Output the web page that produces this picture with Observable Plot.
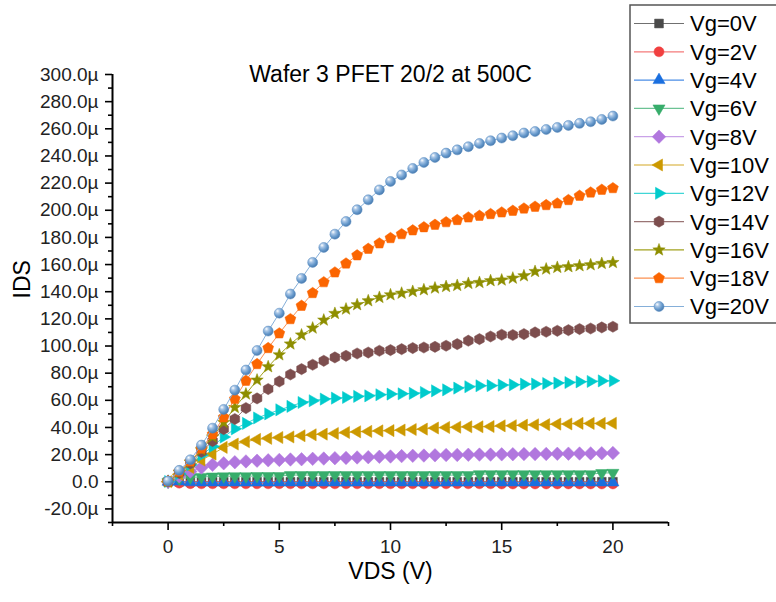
<!DOCTYPE html>
<html><head><meta charset="utf-8">
<script src="https://cdn.jsdelivr.net/npm/d3@7"></script>
<script src="https://cdn.jsdelivr.net/npm/@observablehq/plot@0.6"></script>
<style>body{margin:0;background:#fff;} svg{font-family:"Liberation Sans",Arial,sans-serif;}</style>
</head><body><div id="chart"></div>
<script>
const title = "Wafer 3 PFET 20/2 at 500C";
const xLabel = "VDS (V)";
const yLabel = "IDS";
const xTicks = [0, 5, 10, 15, 20];
const xMinorTicks = [-2.5, 2.5, 7.5, 12.5, 17.5, 22.5];
const yTicks = [-20, 0, 20, 40, 60, 80, 100, 120, 140, 160, 180, 200, 220, 240, 260, 280, 300];
const yMinorTicks = [-30, -10, 10, 30, 50, 70, 90, 110, 130, 150, 170, 190, 210, 230, 250, 270, 290];

const vds = [0,0.5,1,1.5,2,2.5,3,3.5,4,4.5,5,5.5,6,6.5,7,7.5,8,8.5,9,9.5,10,10.5,11,11.5,12,12.5,13,13.5,14,14.5,15,15.5,16,16.5,17,17.5,18,18.5,19,19.5,20];
const seriesNames = ["Vg=0V","Vg=2V","Vg=4V","Vg=6V","Vg=8V","Vg=10V","Vg=12V","Vg=14V","Vg=16V","Vg=18V","Vg=20V"];
const seriesColors = ["#4a4a4a","#f14040","#1a6fdf","#37ad6b","#b177de","#cc9900","#00cbcc","#7d4e4e","#8e8e00","#fb6501","#6699cc"];
const lineColors = ["#707070","#f47a7a","#4a8de6","#6cc294","#c9a2e8","#d4a825","#40d6d6","#9a7575","#a2a21e","#fc9050","#85afd9"];

// IDS in µA
const ids0 = [0,0,0,0,0,0,0,0,0,0,0,0,0,0,0,0,0,0,0,0,0,0,0,0,0,0,0,0,0,0,0,0,0,0,0,0,0,0,0,0,0];
const ids2 = [0,-1,-1.4,-1.5,-1.5,-1.5,-1.5,-1.5,-1.5,-1.5,-1.5,-1.5,-1.5,-1.5,-1.5,-1.5,-1.5,-1.5,-1.5,-1.5,-1.5,-1.5,-1.5,-1.5,-1.5,-1.5,-1.5,-1.5,-1.5,-1.5,-1.6,-1.6,-1.6,-1.6,-1.6,-1.6,-1.6,-1.6,-1.6,-1.6,-1.6];
const ids4 = [0,0.2,-0.4,-0.5,-0.5,-0.5,-0.5,-0.5,-0.5,-0.5,-0.5,-0.5,-0.5,-0.5,-0.5,-0.5,-0.5,-0.5,-0.5,-0.5,-0.5,-0.5,-0.5,-0.5,-0.5,-0.5,-0.5,-0.5,-0.5,-0.5,-0.5,-0.5,-0.5,-0.5,-0.5,-0.5,-0.5,-0.5,-0.5,-0.5,-0.5];
const ids6 = [0,2.2,3.2,3.6,3.9,4.0,4.1,4.1,4.2,4.2,4.2,4.9,4.9,4.9,4.9,4.9,4.9,4.9,4.9,4.9,4.9,4.9,4.9,4.9,4.9,4.9,4.9,4.9,5.6,5.6,5.6,5.6,5.6,5.6,5.6,5.6,5.6,5.6,5.6,6.4,6.6];
const ids8 = [0,4,7.5,10.5,12.5,13.6,14.4,15,15.5,15.8,16.1,16.4,16.6,16.9,17.1,17.4,17.6,17.9,18.1,18.4,18.6,18.9,19.1,19.3,19.5,19.7,19.8,19.9,20,20,20.2,20.3,20.4,20.4,20.5,20.6,20.7,20.8,20.9,21,21.2];
const ids10 = [0.1,5.5,10.5,16,20.4,25.3,27.8,29.5,31.2,32,32.6,33,33.9,34.6,35.1,35.6,36.3,36.8,37.1,37.5,37.7,38.1,38.5,38.8,39.6,40,40.2,40.5,40.5,40.7,41.2,41.3,41.7,42,42.1,42.5,42.6,43,43,43,43.1];
const ids12 = [0.2,6,12.5,19.5,26,33,39,43,47,50,53,55.5,58.4,59.7,60.9,61.6,62.1,62.9,63.3,64.1,64.6,64.8,65.1,65.8,67,67.7,69,70,70.7,70.8,71.2,71.4,71.9,72,72.4,72.7,73.1,73.6,73.9,74.3,74.4];
const ids14 = [0.2,6.5,13.5,22,30,38.8,46.2,54.3,61.4,68.3,73.9,79,83,86.2,89.1,91.6,92.8,94.5,95.2,96.5,97,97.7,98.5,98.9,99.4,100.2,101.4,103.9,105.1,107,108.3,108.1,108.8,110,110.5,111.2,111.7,112.5,112.9,113.7,114.2];
const ids16 = [0.2,7,14.5,23.5,33,43.7,54.7,64.6,74.9,84.7,93.5,101.5,108.1,113.2,119.1,124,127.2,130.4,133.3,135.8,137.7,138.9,140.2,141.4,142.7,143.8,144.6,146.1,146.8,148.1,148.6,150,151.7,154.9,156.7,157.9,158.4,159.1,159.8,160.8,161.5];
const ids18 = [0.3,7.5,15,24.5,35,47.5,61,74.4,86.7,98.5,109.3,119.8,129.6,139,147,154.2,160.8,166.8,171.6,175.6,179.5,182.4,185.2,187.5,189.3,191.2,192.8,194.7,195.9,197.2,198.4,199.6,201.3,202.6,203.8,205,207.5,210.7,213.1,215.1,216.3];
const ids20 = [0.5,8.4,16.2,27,39.5,53.3,67.5,82.3,96.7,111,124.2,138.3,149.8,161.6,172.6,182.4,191.7,200.4,207.7,215,221.2,226,230.8,235.2,238.9,242.1,244.5,246.8,249.2,251.2,253.2,254.9,256.9,258,259.5,261,262.5,264,265.2,266.9,269.4];
const allIds = [ids0, ids2, ids4, ids6, ids8, ids10, ids12, ids14, ids16, ids18, ids20];

// marker shapes
function poly(n, rot, k) {
  return { draw(ctx, size) {
    const r = Math.sqrt(size / Math.PI) * k;
    for (let i = 0; i < n; i++) {
      const a = rot + 2 * Math.PI * i / n;
      const px = r * Math.sin(a), py = -r * Math.cos(a);
      if (i) ctx.lineTo(px, py); else ctx.moveTo(px, py);
    }
    ctx.closePath();
  }};
}
const starSym = { draw(ctx, size) {
  const R = Math.sqrt(size / Math.PI) * 1.3, r = R * 0.42;
  for (let i = 0; i < 10; i++) {
    const a = Math.PI * i / 5, rr = i % 2 ? r : R;
    const px = rr * Math.sin(a), py = -rr * Math.cos(a);
    if (i) ctx.lineTo(px, py); else ctx.moveTo(px, py);
  }
  ctx.closePath();
}};
const symbols = [
  poly(4, Math.PI / 4, 1.25),   // square
  d3.symbolCircle,
  poly(3, 0, 1.4),              // up
  poly(3, Math.PI, 1.4),        // down
  poly(4, 0, 1.35),             // diamond
  poly(3, -Math.PI / 2, 1.4),   // left
  poly(3, Math.PI / 2, 1.4),    // right
  poly(6, 0, 1.12),             // hexagon
  starSym,
  poly(5, 0, 1.15),             // pentagon
  d3.symbolCircle               // sphere
];
const fills = seriesColors.map((c, i) => i === 10 ? "url(#sphereGrad)" : c);

const table = [];
seriesNames.forEach((s, si) => vds.forEach((v, j) => table.push({series: s, si, vds: v, ids: allIds[si][j]})));

const fmt = d => d === 0 ? "0.0" : d.toFixed(1) + "µ";

const marks = [
  Plot.ruleX([-2.5], {stroke: "#000", strokeWidth: 2}),
  Plot.ruleY([-30], {stroke: "#000", strokeWidth: 2}),
  Plot.axisX({ticks: xTicks, tickSize: 8, tickPadding: 9, fontSize: 19, fill: "#222", stroke: "#000", strokeWidth: 1.6, label: null, tickFormat: d => String(d)}),
  Plot.axisX({ticks: xMinorTicks, tickSize: 4, stroke: "#000", strokeWidth: 1.6, label: null, tickFormat: () => ""}),
  Plot.axisY({ticks: yTicks, tickSize: 7, tickPadding: 7, fontSize: 19, fill: "#222", stroke: "#000", strokeWidth: 1.6, label: null, tickFormat: fmt}),
  Plot.axisY({ticks: yMinorTicks, tickSize: 4, stroke: "#000", strokeWidth: 1.6, label: null, tickFormat: () => ""}),
  Plot.text([title], {text: d => d, frameAnchor: "top", dy: -9, fontSize: 23, fill: "#000"}),
  Plot.text([xLabel], {text: d => d, frameAnchor: "bottom", dy: 56, fontSize: 23, fill: "#000"}),
  Plot.text([yLabel], {text: d => d, frameAnchor: "left", dx: -90, rotate: -90, fontSize: 23, fill: "#000"})
];
seriesNames.forEach((s, si) => {
  const data = table.filter(d => d.si === si);
  marks.push(Plot.line(data, {x: "vds", y: "ids", stroke: lineColors[si], strokeWidth: 1}));
  marks.push(Plot.dot(data, {x: "vds", y: "ids", r: 5, symbol: symbols[si], fill: fills[si], stroke: si === 10 ? "#5a8cc0" : seriesColors[si], strokeWidth: 0.5}));
});

const chart = Plot.plot({
  width: 776, height: 602,
  marginLeft: 112, marginRight: 108, marginTop: 74, marginBottom: 80,
  x: {domain: [-2.5, 22.5]},
  y: {domain: [-30, 300]},
  style: {fontFamily: "'Liberation Sans', Arial, sans-serif", background: "#fff", color: "#000"},
  marks
});
document.getElementById("chart").appendChild(chart);

// sphere gradient + legend
const svg = d3.select(chart);
const defs = svg.insert("defs", ":first-child");
const g = defs.append("radialGradient").attr("id", "sphereGrad").attr("cx", "38%").attr("cy", "35%").attr("r", "65%").attr("fx", "32%").attr("fy", "28%");
g.append("stop").attr("offset", "0%").attr("stop-color", "#ffffff");
g.append("stop").attr("offset", "30%").attr("stop-color", "#a9c6e6");
g.append("stop").attr("offset", "70%").attr("stop-color", "#6699cc");
g.append("stop").attr("offset", "100%").attr("stop-color", "#4a7cb0");

const leg = svg.append("g").attr("text-anchor", "start");
leg.append("rect").attr("x", 630).attr("y", 5).attr("width", 160).attr("height", 318)
  .attr("fill", "#fff").attr("stroke", "#555").attr("stroke-width", 1.5);
seriesNames.forEach((s, i) => {
  const cy = 23.5 + 28.3 * i;
  leg.append("line").attr("x1", 634).attr("x2", 684).attr("y1", cy).attr("y2", cy)
    .attr("stroke", lineColors[i]).attr("stroke-width", 1.2);
  leg.append("path").attr("transform", `translate(659,${cy})`)
    .attr("d", d3.symbol().type(symbols[i]).size(Math.PI * 25)())
    .attr("fill", fills[i]).attr("stroke", i === 10 ? "#5a8cc0" : seriesColors[i]).attr("stroke-width", 0.5);
  leg.append("text").attr("x", 690).attr("y", cy).attr("dy", "0.36em")
    .attr("text-anchor", "start").attr("font-size", 22).attr("fill", "#000").text(s);
});
</script>
</body></html>
